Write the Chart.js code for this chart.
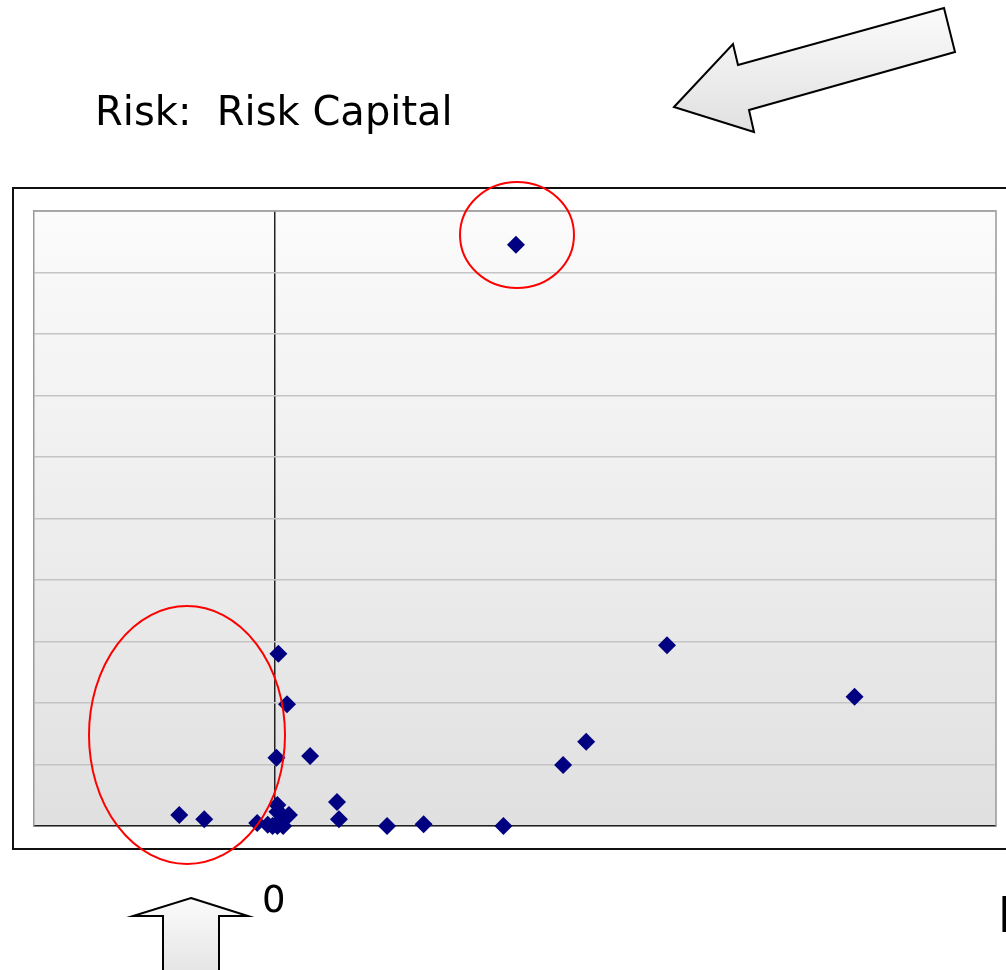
<!DOCTYPE html>
<html>
<head>
<meta charset="utf-8">
<script src="https://cdn.jsdelivr.net/npm/chart.js@4/dist/chart.umd.min.js"></script>
<style>
  html, body { margin: 0; padding: 0; background: #fff; overflow: hidden; }
  #wrap { position: relative; width: 1006px; height: 970px; }
  #chart { position: absolute; left: 0; top: 0; }
  .lbl { position: absolute; font-family: "DejaVu Sans", Verdana, sans-serif; color: #000; white-space: pre; line-height: 1; }
  #title { left: 95px; top: 91px; font-size: 40px; }
  #zero { left: 262px; top: 881px; font-size: 37px; }
  #fcut { left: 998px; top: 890px; font-size: 50px; font-family: "Liberation Sans Narrow", "DejaVu Sans Condensed", sans-serif; }
</style>
</head>
<body>
<div id="wrap">
  <canvas id="chart" width="1006" height="970"></canvas>
  <div class="lbl" id="title">Risk:  Risk Capital</div>
  <div class="lbl" id="zero">0</div>
  <div class="lbl" id="fcut">F</div>
</div>
<script>
  // scatter values
  var xValues = [2.51, 4.08, 6.03, 3.24, 3.00, 0.04, 0.13, 0.02, 0.37, 0.65, 0.67, 1.17, 1.55, 2.38,
    -0.99, -0.73, -0.18, -0.07, 0.03, 0.03, 0.09, 0.15, 0.09, 0.03, -0.02, 0.05];
  var yValues = [9.45, 2.94, 2.10, 1.37, 0.99, 2.80, 1.98, 1.11, 1.14, 0.39, 0.11, 0.00, 0.03, 0.00,
    0.18, 0.11, 0.05, 0.02, 0.34, 0.23, 0.16, 0.18, 0.00, 0.00, 0.00, 0.08];
  var xRange = [-2.5, 7.5];
  var yRange = [0, 10];

  var points = xValues.map(function (x, i) {
    return { x: x, y: yValues[i] };
  });

  function shadeFill(ctx, top, bottom) {
    var g = ctx.createLinearGradient(0, top, 0, bottom);
    g.addColorStop(0, '#fbfbfb');
    g.addColorStop(1, '#e0e0e0');
    return g;
  }

  function poly(ctx, pts) {
    ctx.beginPath();
    ctx.moveTo(pts[0][0], pts[0][1]);
    for (var i = 1; i < pts.length; i++) ctx.lineTo(pts[i][0], pts[i][1]);
    ctx.closePath();
  }

  var backdrop = {
    id: 'backdrop',
    beforeDraw: function (chart) {
      var ctx = chart.ctx;
      var a = chart.chartArea;
      ctx.save();
      // outer frame
      ctx.fillStyle = '#fff';
      ctx.fillRect(13, 188, 1000, 661);
      ctx.strokeStyle = '#111';
      ctx.lineWidth = 2;
      ctx.strokeRect(13, 188, 1000, 661);
      // plot area shading
      ctx.fillStyle = shadeFill(ctx, a.top, a.bottom);
      ctx.fillRect(a.left, a.top, a.right - a.left, a.bottom - a.top);
      ctx.restore();
    },
    afterDatasetsDraw: function (chart) {
      var ctx = chart.ctx;
      var a = chart.chartArea;
      ctx.save();
      ctx.strokeStyle = '#999';
      ctx.lineWidth = 1.5;
      ctx.beginPath();
      ctx.moveTo(a.left, a.top);
      ctx.lineTo(a.right, a.top);
      ctx.lineTo(a.right, a.bottom);
      ctx.stroke();
      ctx.restore();
    },
    afterDraw: function (chart) {
      var ctx = chart.ctx;
      ctx.save();
      // red rings
      ctx.strokeStyle = '#ff0000';
      ctx.lineWidth = 2;
      ctx.beginPath();
      ctx.ellipse(517, 235, 57, 53, 0, 0, Math.PI * 2);
      ctx.stroke();
      ctx.beginPath();
      ctx.ellipse(187, 735, 98, 129, 0, 0, Math.PI * 2);
      ctx.stroke();

      // arrows
      ctx.lineWidth = 2;
      ctx.strokeStyle = '#000';
      ctx.lineJoin = 'miter';
      poly(ctx, [[674, 107], [733, 44], [738, 65], [944, 8], [955, 52], [749, 110], [754, 132]]);
      ctx.fillStyle = shadeFill(ctx, 8, 132);
      ctx.fill();
      ctx.stroke();

      poly(ctx, [[191, 898], [248, 916], [219, 916], [219, 990], [163, 990], [163, 916], [133, 916]]);
      ctx.fillStyle = shadeFill(ctx, 898, 990);
      ctx.fill();
      ctx.stroke();
      ctx.restore();
    }
  };

  new Chart(document.getElementById('chart'), {
    type: 'scatter',
    data: {
      datasets: [{
        data: points,
        pointStyle: 'rectRot',
        pointRadius: 9,
        pointHoverRadius: 9,
        pointBorderWidth: 0,
        backgroundColor: '#000080',
        borderColor: '#000080',
        clip: false
      }]
    },
    options: {
      responsive: false,
      animation: false,
      events: [],
      layout: { padding: { left: 34, top: 211, right: 10, bottom: 144 } },
      plugins: { legend: { display: false }, tooltip: { enabled: false } },
      scales: {
        x: {
          type: 'linear',
          min: xRange[0],
          max: xRange[1],
          ticks: { display: false, stepSize: 0.5 },
          grid: {
            drawTicks: false,
            lineWidth: 1.5,
            color: function (c) {
              return c.tick && c.tick.value === 0 ? '#222' : 'rgba(0,0,0,0)';
            }
          },
          border: { display: true, color: '#222', width: 1.5 }
        },
        y: {
          min: yRange[0],
          max: yRange[1],
          ticks: { display: false, stepSize: 1 },
          grid: { drawTicks: false, color: '#c4c4c4', lineWidth: 1.5 },
          border: { display: true, color: '#999', width: 1.5 }
        }
      }
    },
    plugins: [backdrop]
  });
</script>
</body>
</html>
